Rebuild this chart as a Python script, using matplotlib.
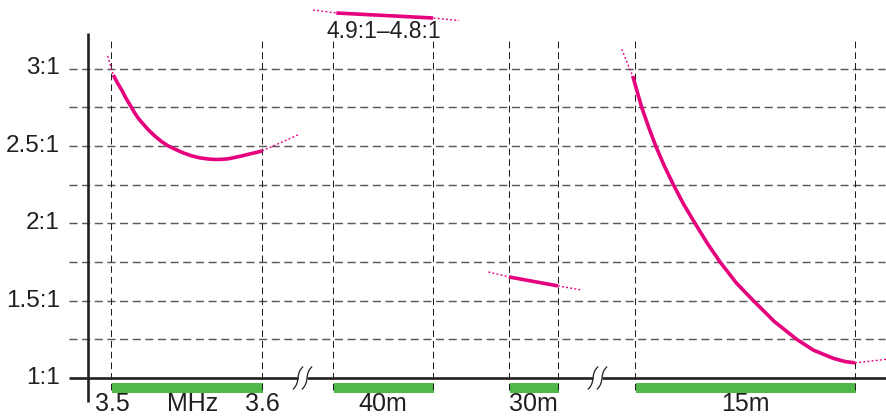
import numpy as np
import matplotlib.pyplot as plt

plt.rcParams['font.family'] = ['Liberation Sans', 'DejaVu Sans']
plt.rcParams['lines.scale_dashes'] = False

# --- data ---
swr_ticks = [1.0, 1.5, 2.0, 2.5, 3.0]
swr_tick_labels = ['1:1', '1.5:1', '2:1', '2.5:1', '3:1']
swr_minor = [1.25, 1.75, 2.25, 2.75]

band_names = ['80m', '40m', '30m', '15m']
band_lo_mhz = [3.5, 7.0, 10.1, 21.0]
band_hi_mhz = [3.6, 7.3, 10.15, 21.45]

# 80m (3.5-3.6 MHz)
f80 = [3.5015, 3.5042, 3.5071, 3.5097, 3.5126, 3.5153, 3.5181, 3.5215,
       3.5248, 3.5292, 3.5336, 3.5380, 3.5425, 3.5480, 3.5536, 3.5591,
       3.5646, 3.5690, 3.5735, 3.5779, 3.5823, 3.5867, 3.5911, 3.5956, 3.6000]
swr80 = [2.958, 2.908, 2.861, 2.812, 2.764, 2.719, 2.678, 2.639,
         2.603, 2.562, 2.527, 2.499, 2.478, 2.454, 2.435, 2.422,
         2.415, 2.412, 2.413, 2.417, 2.426, 2.435, 2.446, 2.456, 2.467]
f80_lo_ext = [3.4978, 3.5015]
swr80_lo_ext = [3.081, 2.958]
f80_hi_ext = [3.6000, 3.6248]
swr80_hi_ext = [2.467, 2.575]

# 40m, off scale
f40 = [7.01, 7.3]
swr40 = [4.9, 4.8]
f40_ext = [6.94, 7.01, 7.3, 7.378]
swr40_ext = [4.96, 4.9, 4.8, 4.75]

# 30m
f30 = [10.10, 10.15]
swr30 = [1.653, 1.595]
f30_ext = [10.079, 10.10, 10.15, 10.174]
swr30_ext = [1.685, 1.653, 1.595, 1.569]

# 15m
f15 = [20.9953, 21.0045, 21.0136, 21.0280, 21.0423, 21.0600, 21.0784, 21.1000,
       21.1227, 21.1480, 21.1739, 21.2070, 21.2420, 21.2850, 21.3307, 21.3650,
       21.4056, 21.4300, 21.45]
swr15 = [2.952, 2.850, 2.750, 2.620, 2.500, 2.370, 2.250, 2.120,
         2.000, 1.870, 1.750, 1.615, 1.500, 1.365, 1.250, 1.180,
         1.127, 1.106, 1.098]
f15_lo_ext = [20.9728, 20.9953]
swr15_lo_ext = [3.124, 2.952]
f15_hi_ext = [21.45, 21.515]
swr15_hi_ext = [1.098, 1.121]

# --- layout ---
W, H = 887, 417
band_left = [111, 333, 509, 635]
band_right = [262, 433, 558, 855]
PX_PER_SWR = 154.75
ROW_1TO1 = 378


def row(p):
    # pixel row -> swr value on the main scale
    return 1 + (ROW_1TO1 - p) / PX_PER_SWR


def xpos(i, f):
    f = np.asarray(f, dtype=float)
    return band_left[i] + (f - band_lo_mhz[i]) / (band_hi_mhz[i] - band_lo_mhz[i]) * (band_right[i] - band_left[i])


def off_scale(s):
    # 40m values are drawn squeezed near the top of the chart
    s = np.asarray(s, dtype=float)
    return row(13 + (4.9 - s) * 50)


ink = '#231f20'
magenta = '#e6007e'
green = '#50b848'

fig = plt.figure(figsize=(W / 100, H / 100), dpi=100)
ax = fig.add_axes([0, 0, 1, 1])
ax.set_xlim(0, W)
ax.set_ylim(row(H), row(0))
ax.axis('off')

# grid
for v in swr_ticks[1:] + swr_minor:
    ax.plot([69, 885], [v, v], color='#5a5a5a', lw=1.05, linestyle=(0, (5.8, 3.3)))
for i in range(4):
    for xv in (band_left[i], band_right[i]):
        ax.plot([xv, xv], [row(390), row(37)], color=ink, lw=0.75, linestyle=(0, (4.8, 2.9)))

# bands
ax.broken_barh([(band_left[i] + 1, band_right[i] - band_left[i]) for i in range(4)],
               (row(393), row(383) - row(393)), facecolor=green)

# axes lines
ax.plot([88, 88], [row(402), row(33)], color=ink, lw=1.9, solid_capstyle='butt')
for x0, x1 in [(69, 298), (307, 593), (602, 887)]:
    ax.plot([x0, x1], [1, 1], color=ink, lw=1.9, solid_capstyle='butt')

# break marks
t = np.linspace(0, 1, 40)
for xc in (298, 307, 593, 602):
    u = 2 * t - 1
    ax.plot(xc - 1.5 * u - 3.2 * u ** 3, row(367 + 22 * t), color=ink, lw=0.9)

# SWR curves
dot = dict(color=magenta, lw=1.0, linestyle=(0, (1.4, 1.6)))
sol = dict(color=magenta, lw=2.6, solid_capstyle='butt', solid_joinstyle='round')
ax.plot(xpos(0, f80_lo_ext), swr80_lo_ext, **dot)
ax.plot(xpos(0, f80_hi_ext), swr80_hi_ext, **dot)
ax.plot(xpos(0, f80), swr80, **sol)
ax.plot(xpos(1, f40_ext), off_scale(swr40_ext), **dot)
ax.plot(xpos(1, f40), off_scale(swr40), **sol)
ax.plot(xpos(2, f30_ext), swr30_ext, **dot)
ax.plot(xpos(2, f30), swr30, **sol)
ax.plot(xpos(3, f15_lo_ext), swr15_lo_ext, **dot)
ax.plot(xpos(3, f15_hi_ext), swr15_hi_ext, **dot)
ax.plot(xpos(3, f15), swr15, **sol)

ax.text(384, row(31), '%.1f:1\u2013%.1f:1' % (swr40[0], swr40[1]), ha='center', va='center',
        fontsize=16.5, color=ink)

# labels
for v, lab in zip(swr_ticks, swr_tick_labels):
    ax.text(60, v, lab, ha='right', va='center', fontsize=17.5, color=ink)

base = row(411)
ax.text(band_left[0] + 1, base, '3.5', ha='center', va='baseline', fontsize=18, color=ink)
ax.text(193, base, 'MHz', ha='center', va='baseline', fontsize=18, color=ink)
ax.text(band_right[0], base, '3.6', ha='center', va='baseline', fontsize=18, color=ink)
for i in range(1, 4):
    cx = (band_left[i] + band_right[i]) / 2
    ax.text(cx, base, band_names[i], ha='center', va='baseline', fontsize=18, color=ink)

fig.savefig('out.png', dpi=100)
